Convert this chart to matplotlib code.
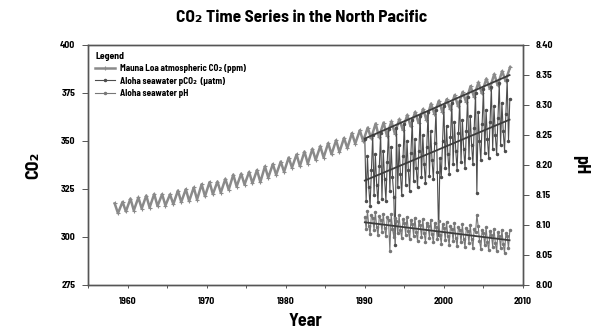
import numpy as np
import matplotlib
matplotlib.use("Agg")
import matplotlib.pyplot as plt

plt.rcParams['font.family'] = ['Barlow Semi Condensed', 'DejaVu Sans']
plt.rcParams['font.weight'] = 'bold'

# ---------------- data ----------------
mlo_years = list(range(1958, 2009))
mlo_peak = [317.5, 318.3, 320.0, 320.6, 321.6, 322.4, 322.3, 322.2, 324.2, 324.9,
            325.8, 327.5, 328.6, 328.9, 330.3, 332.5, 333.0, 333.9, 334.9, 336.8,
            338.0, 339.3, 341.4, 343.0, 344.5, 345.9, 347.3, 348.9, 350.4, 351.6,
            354.1, 355.6, 357.0, 359.1, 359.6, 360.2, 361.4, 363.6, 365.2, 366.7,
            369.5, 371.0, 371.8, 374.0, 375.6, 378.6, 380.6, 382.5, 384.9, 386.4,
            388.5]
mlo_trough = [312.4, 313.3, 313.8, 314.8, 315.3, 316.1, 316.4, 317.1, 318.2, 318.7,
              319.5, 321.2, 322.3, 323.1, 324.6, 326.3, 327.3, 328.0, 328.6, 330.9,
              332.4, 333.9, 336.1, 336.9, 338.2, 340.1, 341.4, 343.1, 344.2, 346.3,
              348.6, 349.9, 351.4, 352.0, 352.8, 353.9, 355.9, 357.6, 359.4, 360.9,
              364.2, 365.3, 366.6, 368.1, 370.5, 373.1, 374.8, 377.3, 379.0, 381.2]

hot_start = 1990.0
hot_per_year = 6
pco2 = [351, 319, 342, 326, 316, 335,
        353, 322, 343, 327, 318, 337,
        354, 320, 345, 330, 319, 339,
        356, 324, 347, 331, 321, 296,
        357, 326, 348, 333, 322, 342,
        359, 327, 350, 335, 324, 344,
        361, 329, 351, 336, 326, 345,
        363, 331, 353, 338, 328, 347,
        365, 332, 355, 340, 330, 349,
        366, 334, 301, 341, 331, 350,
        368, 336, 358, 343, 333, 352,
        370, 338, 360, 345, 335, 354,
        371, 339, 361, 346, 336, 355,
        373, 341, 363, 348, 338, 357,
        375, 323, 365, 350, 340, 359,
        377, 344, 366, 351, 341, 360,
        378, 346, 368, 353, 343, 362,
        380, 348, 370, 355, 345, 364,
        382, 350, 372]
ph = [8.113, 8.093, 8.123, 8.099, 8.085, 8.117,
      8.111, 8.091, 8.121, 8.097, 8.083, 8.115,
      8.109, 8.089, 8.119, 8.095, 8.081, 8.113,
      8.108, 8.057, 8.118, 8.094, 8.080, 8.112,
      8.106, 8.086, 8.116, 8.092, 8.078, 8.110,
      8.104, 8.084, 8.114, 8.090, 8.076, 8.108,
      8.102, 8.082, 8.112, 8.088, 8.074, 8.106,
      8.100, 8.080, 8.110, 8.086, 8.072, 8.104,
      8.099, 8.079, 8.109, 8.085, 8.071, 8.103,
      8.097, 8.077, 8.107, 8.083, 8.069, 8.101,
      8.095, 8.075, 8.105, 8.081, 8.067, 8.099,
      8.093, 8.073, 8.103, 8.079, 8.065, 8.097,
      8.091, 8.071, 8.101, 8.077, 8.063, 8.095,
      8.090, 8.070, 8.100, 8.076, 8.062, 8.094,
      8.088, 8.117, 8.098, 8.074, 8.060, 8.092,
      8.086, 8.066, 8.096, 8.072, 8.058, 8.090,
      8.084, 8.064, 8.094, 8.070, 8.056, 8.088,
      8.082, 8.062, 8.092, 8.068, 8.054, 8.086,
      8.081, 8.061, 8.091]

labels = ["Mauna Loa atmospheric CO\u2082 (ppm)",
          "Aloha seawater pCO\u2082  (\u03bcatm)",
          "Aloha seawater pH"]
title = "CO\u2082 Time Series in the North Pacific"

# ---------------- build series ----------------
t_mlo, v_mlo = [], []
for i, y in enumerate(mlo_years):
    t_mlo.append(y + 0.37); v_mlo.append(mlo_peak[i])
    if i < len(mlo_trough):
        t_mlo.append(y + 0.79); v_mlo.append(mlo_trough[i])
t_mlo = np.array(t_mlo); v_mlo = np.array(v_mlo)

t_hot = hot_start + np.arange(len(pco2)) / hot_per_year
t_ph = hot_start + np.arange(len(ph)) / hot_per_year

c_mlo = '#8a8a8a'
c_pco2 = '#4d4d4d'
c_ph = '#777777'
c_fit = '#3c3c3c'

fig = plt.figure(figsize=(6.04, 3.33), dpi=100)
ax = fig.add_axes([88/604, 1-285/333, (523-88)/604, (285-45)/333])
ax2 = ax.twinx()

l1, = ax.plot(t_mlo, v_mlo, color=c_mlo, lw=1.8, marker='+', ms=3, mew=0.8)
l2, = ax.plot(t_hot, pco2, color=c_pco2, lw=0.8, marker='.', ms=3)
l3, = ax2.plot(t_ph, ph, color=c_ph, lw=0.8, marker='.', ms=3)

# linear fits over HOT period
m = t_mlo >= 1990
p = np.polyfit(t_mlo[m], v_mlo[m], 1)
xf = np.array([1990, 2008.3])
ax.plot(xf, np.polyval(p, xf), color=c_fit, lw=1.3)
p = np.polyfit(t_hot, pco2, 1)
ax.plot(xf, np.polyval(p, xf), color=c_fit, lw=1.3)
p = np.polyfit(t_ph, ph, 1)
ax2.plot(xf, np.polyval(p, xf), color=c_fit, lw=1.3)

ax.set_xlim(1955, 2010)
ax.set_ylim(275, 400)
ax2.set_ylim(8.00, 8.40)
ax.set_xticks(np.arange(1955, 2011, 5))
ax.set_xticklabels(['' if y % 10 else str(y) for y in range(1955, 2011, 5)])
ax.set_yticks(np.arange(275, 401, 25))
ax2.set_yticks(np.arange(8.00, 8.41, 0.05))
ax2.set_yticklabels([f"{v:.2f}" for v in np.arange(8.00, 8.41, 0.05)])

for a in (ax, ax2):
    a.tick_params(labelsize=7, length=4, width=0.7, color='#555555', pad=5)
    for s in a.spines.values():
        s.set_color('#555555'); s.set_linewidth(1.0)
ax.tick_params(axis='x', length=2, pad=7)

ax.set_xlabel("Year", fontsize=13, fontweight='bold', labelpad=5)
ax.set_ylabel("CO\u2082", fontsize=13, fontweight='bold', labelpad=13)
ax2.set_ylabel("pH", fontsize=13, fontweight='bold', rotation=-90, labelpad=26)
fig.text(0.5, 1-18/333, title, ha='center', va='center', fontsize=12.5, fontweight='bold')

leg = ax.legend([l1, l2, l3], labels, loc='upper left', frameon=False,
                title="Legend", fontsize=6.5, title_fontsize=7,
                handlelength=2.2, borderaxespad=0.4, labelspacing=0.35,
                handletextpad=0.6)
leg._legend_box.align = "left"
leg.get_title().set_fontweight('bold')

fig.savefig("out.png", dpi=100)
